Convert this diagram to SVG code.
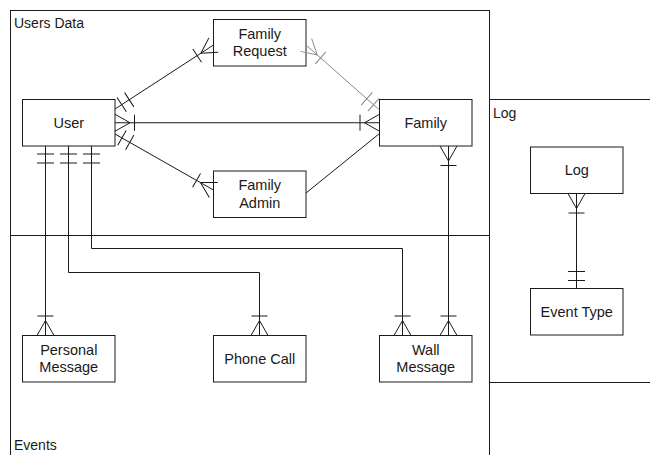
<svg xmlns="http://www.w3.org/2000/svg" width="650" height="455" viewBox="0 0 650 455">
  <style>
    .area { fill: none; stroke: #1a1a1a; stroke-width: 1; }
    .area-label { font-family: "Liberation Sans", Arial, sans-serif; font-size: 14px; fill: #1a1a1a; }
    .entity rect { fill: #ffffff; stroke: #1a1a1a; stroke-width: 1; }
    .entity text { font-family: "Liberation Sans", Arial, sans-serif; font-size: 14.5px; fill: #1a1a1a; text-anchor: middle; }
    .rel { fill: none; stroke: #1a1a1a; stroke-width: 1; }
    .rel-light { fill: none; stroke: #8a8a8a; stroke-width: 1; }
  </style>
  <defs>
    <!-- one-or-many: crow's foot plus bar -->
    <marker id="many" markerUnits="userSpaceOnUse" orient="auto-start-reverse" refX="0" refY="0" markerWidth="1" markerHeight="1" overflow="visible">
      <path d="M-15,0 L0,-8.5 M-15,0 L0,8.5 M-19.5,-8 L-19.5,8" fill="none" stroke="#1a1a1a" stroke-width="1"/>
    </marker>
    <!-- exactly one: double bar -->
    <marker id="one" markerUnits="userSpaceOnUse" orient="auto-start-reverse" refX="0" refY="0" markerWidth="1" markerHeight="1" overflow="visible">
      <path d="M-8,-8.5 V8.5 M-17,-8.5 V8.5" fill="none" stroke="#1a1a1a" stroke-width="1"/>
    </marker>
    <marker id="many-light" markerUnits="userSpaceOnUse" orient="auto-start-reverse" refX="0" refY="0" markerWidth="1" markerHeight="1" overflow="visible">
      <path d="M-15,0 L0,-8.5 M-15,0 L0,8.5 M-19.5,-8 L-19.5,8" fill="none" stroke="#8a8a8a" stroke-width="1"/>
    </marker>
    <marker id="one-light" markerUnits="userSpaceOnUse" orient="auto-start-reverse" refX="0" refY="0" markerWidth="1" markerHeight="1" overflow="visible">
      <path d="M-8,-8.5 V8.5 M-17,-8.5 V8.5" fill="none" stroke="#8a8a8a" stroke-width="1"/>
    </marker>
  </defs>

  <rect width="650" height="455" fill="#ffffff"/>

  <!-- swimlane areas -->
  <g id="area-users-data">
    <rect class="area" x="10.5" y="10.5" width="479" height="225"/>
    <text class="area-label" x="14" y="27.5">Users Data</text>
  </g>
  <g id="area-events">
    <rect class="area" x="10.5" y="235.5" width="479" height="240"/>
    <text class="area-label" x="14" y="450">Events</text>
  </g>
  <g id="area-log">
    <rect class="area" x="489.5" y="99.5" width="180" height="283"/>
    <text class="area-label" x="493" y="117.5">Log</text>
  </g>

  <!-- entities -->
  <g id="user" class="entity">
    <rect x="22.5" y="99.5" width="92.5" height="46.5"/>
    <text x="68.75" y="127.75">User</text>
  </g>
  <g id="family-request" class="entity">
    <rect x="213.5" y="19.5" width="92.5" height="46.5"/>
    <text x="259.75" y="38.5">Family</text>
    <text x="259.75" y="55.5">Request</text>
  </g>
  <g id="family" class="entity">
    <rect x="379.5" y="99.5" width="92.5" height="46.5"/>
    <text x="425.75" y="127.75">Family</text>
  </g>
  <g id="family-admin" class="entity">
    <rect x="213.5" y="171" width="92.5" height="46.5"/>
    <text x="259.75" y="190.25">Family</text>
    <text x="259.75" y="207.5">Admin</text>
  </g>
  <g id="personal-message" class="entity">
    <rect x="22.5" y="335.5" width="92.5" height="46.5"/>
    <text x="68.75" y="354.75">Personal</text>
    <text x="68.75" y="372">Message</text>
  </g>
  <g id="phone-call" class="entity">
    <rect x="213.5" y="335.5" width="92.5" height="46.5"/>
    <text x="259.75" y="363.75">Phone Call</text>
  </g>
  <g id="wall-message" class="entity">
    <rect x="379.5" y="335.5" width="92.5" height="46.5"/>
    <text x="425.75" y="354.75">Wall</text>
    <text x="425.75" y="372">Message</text>
  </g>
  <g id="log" class="entity">
    <rect x="530.5" y="147" width="92.5" height="46.5"/>
    <text x="576.75" y="175.25">Log</text>
  </g>
  <g id="event-type" class="entity">
    <rect x="530.5" y="288.5" width="92.5" height="46.5"/>
    <text x="576.75" y="316.75">Event Type</text>
  </g>

  <!-- relationships -->
  <g id="connectors">
    <path class="rel" d="M115,109 L213.5,45" marker-start="url(#one)" marker-end="url(#many)"/>
    <path class="rel" d="M115,122.75 L379.5,122.75" marker-start="url(#many)" marker-end="url(#many)"/>
    <path class="rel" d="M115,134 L213.5,190" marker-start="url(#one)" marker-end="url(#many)"/>
    <path class="rel-light" d="M306,45 L379.5,110" marker-start="url(#many-light)" marker-end="url(#one-light)"/>
    <path class="rel" d="M306,193 L379.5,133.5"/>
    <path class="rel" d="M448.5,146 L448.5,335.5" marker-start="url(#many)" marker-end="url(#many)"/>
    <path class="rel" d="M45.5,146 L45.5,335.5" marker-start="url(#one)" marker-end="url(#many)"/>
    <path class="rel" d="M68.5,146 V272.5 H259.5 V335.5" marker-start="url(#one)" marker-end="url(#many)"/>
    <path class="rel" d="M91.5,146 V248.5 H402.5 V335.5" marker-start="url(#one)" marker-end="url(#many)"/>
    <path class="rel" d="M576.5,193.5 L576.5,288.5" marker-start="url(#many)" marker-end="url(#one)"/>
  </g>
</svg>
